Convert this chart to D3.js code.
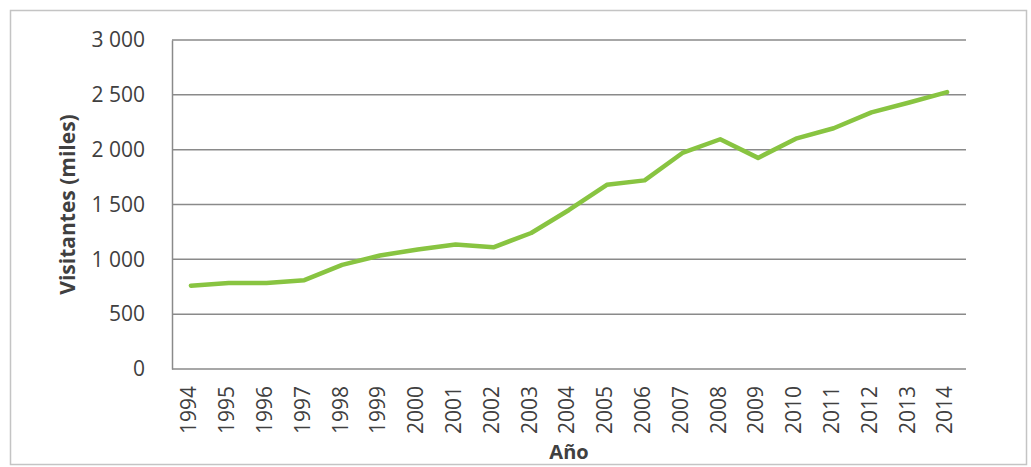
<!DOCTYPE html>
<html><head><meta charset="utf-8">
<script src="https://cdn.jsdelivr.net/npm/d3@7"></script>
<style>body{margin:0;background:#fff}svg{display:block}</style>
</head><body>
<script>
const years = ["1994","1995","1996","1997","1998","1999","2000","2001","2002","2003","2004","2005","2006","2007","2008","2009","2010","2011","2012","2013","2014"];
const visitors = [760,785,785,810,950,1035,1090,1135,1110,1240,1450,1680,1720,1970,2095,1925,2100,2195,2340,2430,2525];
const yTicks = [0,500,1000,1500,2000,2500,3000];
const yTitle = "Visitantes (miles)";
const xTitle = "Año";

const W = 1031, H = 467;
const m = {left:172, right:W-966, top:40, bottom:H-369};
const svg = d3.select("body").append("svg").attr("width",W).attr("height",H);
svg.append("rect").attr("x",10.5).attr("y",10.5).attr("width",1016).attr("height",454)
  .attr("fill","#fff").attr("stroke","#c4c4c4").attr("stroke-width",1.5);

const x = d3.scaleBand().domain(years).range([m.left, W-m.right]);
const y = d3.scaleLinear().domain([0,3000]).range([H-m.bottom, m.top]);
const font = "'Open Sans', 'Noto Sans', sans-serif";

// gridlines
svg.append("g").selectAll("line").data(yTicks).join("line")
  .attr("x1",m.left).attr("x2",W-m.right)
  .attr("y1",d=>y(d)).attr("y2",d=>y(d))
  .attr("stroke","#8a8a8a").attr("stroke-width",1.5);

// y axis
const fmt = d => d3.format(",")(d).replace(/,/g," ");
const ya = svg.append("g").attr("transform",`translate(${m.left},0)`)
  .call(d3.axisLeft(y).tickValues(yTicks).tickFormat(fmt).tickSize(0).tickPadding(27));
ya.select(".domain").attr("stroke","#8a8a8a").attr("stroke-width",1.5);
ya.selectAll("text").attr("font-family",font).attr("font-size",21).attr("fill","#404040");

// x axis
const xa = svg.append("g").attr("transform",`translate(0,${H-m.bottom})`)
  .call(d3.axisBottom(x).tickSize(0).tickPadding(0));
xa.select(".domain").remove();
xa.selectAll("text").attr("font-family",font).attr("font-size",21).attr("fill","#404040")
  .attr("transform","rotate(-90)").attr("text-anchor","end")
  .attr("x",-17).attr("y",-2).attr("dy","0.35em");

// line
svg.append("path").datum(visitors)
  .attr("fill","none").attr("stroke","#88c441").attr("stroke-width",4.5)
  .attr("stroke-linejoin","round").attr("stroke-linecap","round")
  .attr("d", d3.line().x((d,i)=>x(years[i])+x.bandwidth()/2).y(d=>y(d)));

// titles
svg.append("text").attr("transform",`translate(75,${(m.top+H-m.bottom)/2}) rotate(-90)`)
  .attr("text-anchor","middle").attr("font-family",font).attr("font-weight","bold")
  .attr("font-size",21).attr("fill","#404040").text(yTitle);
svg.append("text").attr("x",569).attr("y",459).attr("text-anchor","middle")
  .attr("font-family",font).attr("font-weight","bold")
  .attr("font-size",20).attr("fill","#404040").text(xTitle);
</script>
</body></html>
